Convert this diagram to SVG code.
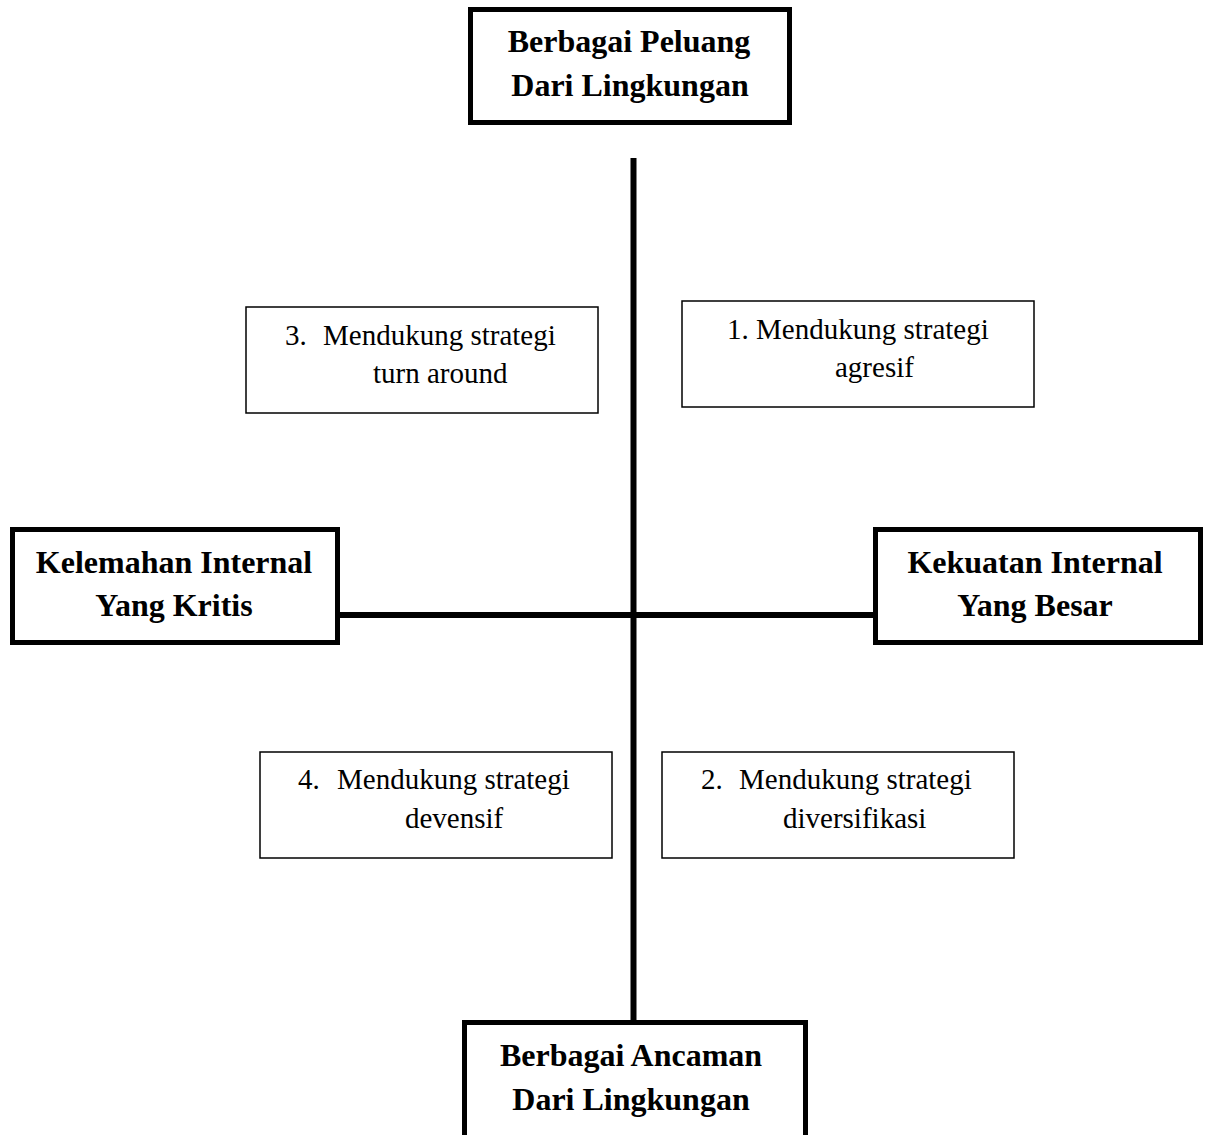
<svg xmlns="http://www.w3.org/2000/svg" width="1206" height="1135" viewBox="0 0 1206 1135">
<style>
.thick{fill:#fff;stroke:#000;stroke-width:5}
.thin{fill:#fff;stroke:#000;stroke-width:1.5}
.bt{font-family:"Liberation Serif","Times New Roman",serif;font-weight:bold;font-size:32px;fill:#000;text-anchor:middle}
.nt{font-family:"Liberation Serif","Times New Roman",serif;font-size:29px;fill:#000}
.ax{stroke:#000;stroke-width:6;fill:none}
</style>
<rect width="1206" height="1135" fill="#fff"/>
<g id="connectors">
<line class="ax" x1="633.5" y1="158" x2="633.5" y2="1022"/>
<line class="ax" x1="338" y1="615" x2="878" y2="615"/>
</g>
<g id="peluang">
<rect class="thick" x="470.5" y="9.5" width="319" height="113"/>
<text class="bt" x="629" y="52">Berbagai Peluang</text>
<text class="bt" x="630" y="96">Dari Lingkungan</text>
</g>
<g id="kelemahan">
<rect class="thick" x="12.5" y="529.5" width="325" height="113"/>
<text class="bt" x="174" y="573">Kelemahan Internal</text>
<text class="bt" x="174" y="616">Yang Kritis</text>
</g>
<g id="kekuatan">
<rect class="thick" x="875.5" y="529.5" width="325" height="113"/>
<text class="bt" x="1035" y="573">Kekuatan Internal</text>
<text class="bt" x="1035" y="616">Yang Besar</text>
</g>
<g id="ancaman">
<rect class="thick" x="464.5" y="1022.5" width="341" height="130"/>
<text class="bt" x="631" y="1066">Berbagai Ancaman</text>
<text class="bt" x="631" y="1110">Dari Lingkungan</text>
</g>
<g id="q3">
<rect class="thin" x="246" y="307" width="352" height="106"/>
<text class="nt" x="285" y="345">3.</text>
<text class="nt" x="323" y="345">Mendukung strategi</text>
<text class="nt" x="373" y="383">turn around</text>
</g>
<g id="q1">
<rect class="thin" x="682" y="301" width="352" height="106"/>
<text class="nt" x="727" y="339">1. Mendukung strategi</text>
<text class="nt" x="835" y="377">agresif</text>
</g>
<g id="q4">
<rect class="thin" x="260" y="752" width="352" height="106"/>
<text class="nt" x="298" y="789">4.</text>
<text class="nt" x="337" y="789">Mendukung strategi</text>
<text class="nt" x="405" y="828">devensif</text>
</g>
<g id="q2">
<rect class="thin" x="662" y="752" width="352" height="106"/>
<text class="nt" x="701" y="789">2.</text>
<text class="nt" x="739" y="789">Mendukung strategi</text>
<text class="nt" x="783" y="828">diversifikasi</text>
</g>
</svg>
